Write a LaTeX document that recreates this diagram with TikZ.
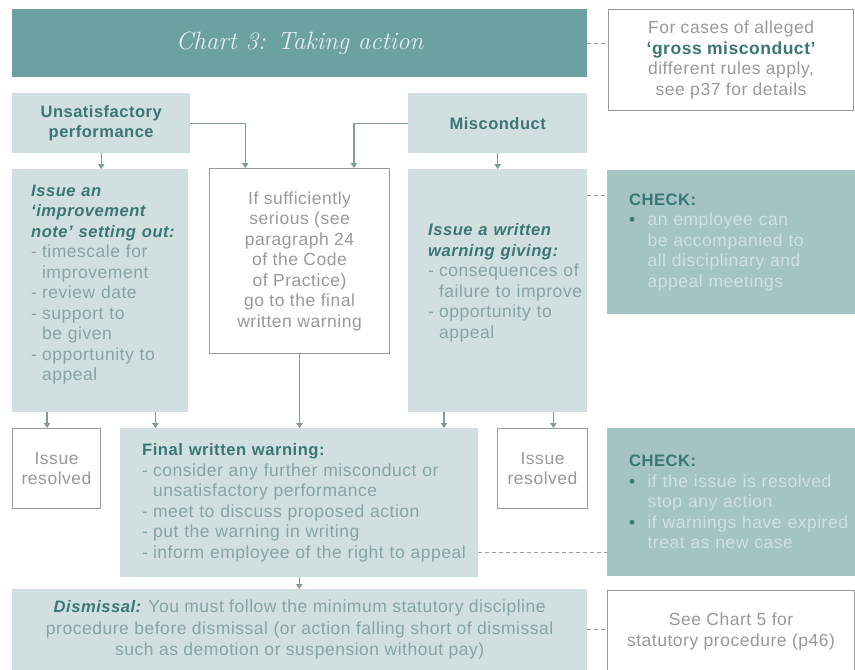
\documentclass[tikz,border=0pt]{standalone}
\usepackage{fontspec}
\setsansfont[LetterSpace=3]{Liberation Sans}
\usetikzlibrary{positioning, arrows.meta, calc}

\definecolor{titleteal}{HTML}{6CA1A1}
\definecolor{titletext}{HTML}{E4EFEF}
\definecolor{paleblue}{HTML}{D2DFE0}
\definecolor{checkteal}{HTML}{A4C3C3}
\definecolor{headteal}{HTML}{3B7676}
\definecolor{bodyteal}{HTML}{86A4A4}
\definecolor{checktext}{HTML}{CFE1E0}
\definecolor{bodygray}{HTML}{999999}
\definecolor{linegray}{HTML}{7E9C9C}

\newcommand{\headfont}{\bfseries\fontsize{16.6}{20.5}\selectfont\color{headteal}}
\newcommand{\dashitem}[1]{\par\hangindent=0.62em\hangafter=1\noindent\makebox[0.62em][l]{-}#1\par}
\newcommand{\chkitem}[1]{\par\hangindent=1.05em\hangafter=1\noindent\makebox[1.05em][l]{\textcolor{headteal}{\textbullet}}#1\par}

\tikzset{
	box/.style={anchor=north west, inner sep=0pt, font=\sffamily\fontsize{17.5}{20.5}\selectfont},
	listbox/.style={box, align=left, execute at begin node={\rightskip=-40pt plus 1fil}},
	lifttext/.style={execute at end node={\par\vspace*{#1}}},
	palebox/.style={listbox, fill=paleblue, text=bodyteal},
	startbox/.style={box, fill=paleblue, text=headteal, align=center, font=\sffamily\bfseries\fontsize{16.5}{20}\selectfont},
	whitebox/.style={box, draw=bodygray, line width=1.1pt, fill=white, text=bodygray, align=center},
	checkbox/.style={listbox, fill=checkteal, text=checktext},
	arr/.style={draw=linegray, line width=1.3pt, -{Triangle[length=5pt,width=6.5pt]}},
	dashline/.style={draw=bodygray, line width=1pt, dash pattern=on 4pt off 3pt}
}

\begin{document}
\begin{tikzpicture}[x=1pt, y=-1pt]
	\useasboundingbox (0,0) rectangle (855,670);
	\fill[white] (0,0) rectangle (855,670);

	% top row
	\node[box, fill=titleteal, text=titletext, minimum width=575, minimum height=68,
		font=\rmfamily\itshape\fontsize{25}{28}\selectfont] (title) at (12,9) {Chart 3: Taking action};
	\node[whitebox, minimum width=245, minimum height=101] (gross) at (608,9)
		{For cases of alleged\\{\bfseries\color{headteal}‘gross misconduct’}\\different rules apply,\\see p37 for details};
	\node[startbox, minimum width=178, minimum height=60] (unsat) at (12,93) {Unsatisfactory\\performance};
	\node[startbox, minimum width=179, minimum height=60] (miscon) at (408,93) {Misconduct};

	% middle row
	\node[palebox, lifttext=12pt, minimum width=176, minimum height=243, text width=138] (improve) at (12,169)
		{{\headfont\itshape Issue an\\‘improvement\\note’ setting out:}
		\dashitem{timescale for\newline improvement}
		\dashitem{review date}
		\dashitem{support to\newline be given}
		\dashitem{opportunity to\newline appeal}};
	\node[whitebox, minimum width=180, minimum height=185] (serious) at (209,168)
		{If sufficiently\\serious (see\\paragraph 24\\of the Code\\of Practice)\\go to the final\\written warning};
	\node[palebox, lifttext=16pt, minimum width=179, minimum height=243, text width=139] (warning) at (408,169)
		{{\headfont\itshape Issue a written\\warning giving:}
		\dashitem{consequences of\newline failure to improve}
		\dashitem{opportunity to\newline appeal}};
	\node[checkbox, minimum width=248, minimum height=144, text width=204] (check1) at (607,170)
		{{\headfont CHECK:}
		\chkitem{an employee can\newline be accompanied to\newline all disciplinary and\newline appeal meetings}};

	% lower row
	\node[whitebox, minimum width=88, minimum height=80] (resolvedL) at (12,428) {Issue\\resolved};
	\node[palebox, minimum width=358, minimum height=149, text width=314] (final) at (120,428)
		{{\headfont Final written warning:}
		\dashitem{consider any further misconduct or\newline unsatisfactory performance}
		\dashitem{meet to discuss proposed action}
		\dashitem{put the warning in writing}
		\dashitem{inform employee of the right to appeal}};
	\node[whitebox, minimum width=90, minimum height=80] (resolvedR) at (497,428) {Issue\\resolved};
	\node[checkbox, minimum width=248, minimum height=148, text width=204] (check2) at (607,428)
		{{\headfont CHECK:}
		\chkitem{if the issue is resolved\newline stop any action}
		\chkitem{if warnings have expired\newline treat as new case}};

	% bottom row
	\node[box, fill=paleblue, text=bodyteal, align=center, minimum width=575, minimum height=81,
		font=\sffamily\fontsize{17.5}{21.5}\selectfont] (dismissal) at (12,589)
		{{\headfont\itshape Dismissal:} You must follow the minimum statutory discipline\\procedure before dismissal (or action falling short of dismissal\\such as demotion or suspension without pay)};
	\node[whitebox, minimum width=247, minimum height=82] (seechart) at (607,590)
		{See Chart 5 for\\statutory procedure (p46)};

	% arrows
	\draw[arr] (unsat.east) -| ($(serious.north west)!0.2!(serious.north east)$);
	\draw[arr] (miscon.west) -| ($(serious.north west)!0.8!(serious.north east)$);
	\draw[arr] (unsat.south) -- (unsat.south |- improve.north);
	\draw[arr] (miscon.south) -- (miscon.south |- warning.north);
	\draw[arr] ([xshift=35]improve.south west) -- ([xshift=35]improve.south west |- resolvedL.north);
	\draw[arr] ([xshift=-33]improve.south east) -- ([xshift=-33]improve.south east |- final.north);
	\draw[arr] (serious.south) -- (serious.south |- final.north);
	\draw[arr] ([xshift=36]warning.south west) -- ([xshift=36]warning.south west |- final.north);
	\draw[arr] ([xshift=-34]warning.south east) -- ([xshift=-34]warning.south east |- resolvedR.north);
	\draw[arr] (final.south) -- (final.south |- dismissal.north);

	% dashed links
	\draw[dashline] (title.east) -- (title.east -| gross.west);
	\draw[dashline] ([yshift=-26]warning.north east) -- ([yshift=-26]warning.north east -| check1.west);
	\draw[dashline] ([yshift=25]final.south east) -- ([yshift=25]final.south east -| check2.west);
	\draw[dashline] (dismissal.east) -- (dismissal.east -| seechart.west);
\end{tikzpicture}
\end{document}
